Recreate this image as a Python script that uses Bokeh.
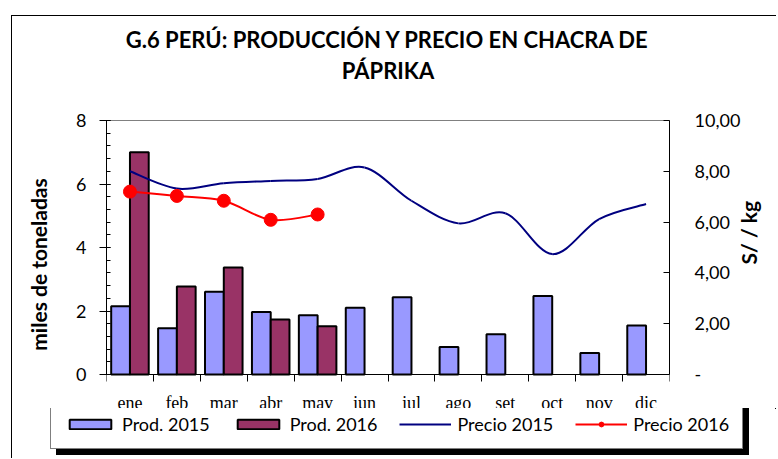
import math
from bokeh.plotting import figure
from bokeh.layouts import column
from bokeh.models import (ColumnDataSource, Range1d, LinearAxis, FixedTicker,
                          SingleIntervalTicker, Legend, LegendItem, Title, LabelSet)
from bokeh.transform import dodge
from bokeh.embed import file_html
from bokeh.resources import INLINE

# ---------------- data ----------------
months = ["ene", "feb", "mar", "abr", "may", "jun",
          "jul", "ago", "set", "oct", "nov", "dic"]
prod_2015 = [2.15, 1.46, 2.61, 1.97, 1.87, 2.10, 2.43, 0.87, 1.27, 2.47, 0.68, 1.54]
prod_2016 = [7.00, 2.77, 3.37, 1.73, 1.52]
precio_2015 = [8.00, 7.32, 7.53, 7.62, 7.70, 8.15, 6.84, 5.95, 6.35, 4.74, 6.12, 6.71]
precio_2016 = [7.20, 7.03, 6.84, 6.09, 6.30]
right_ticks = [0, 2, 4, 6, 8, 10]
right_labels = ["-", "2,00", "4,00", "6,00", "8,00", "10,00"]

FONT = "Lato"
W = 764
H_MAIN = 392
H_LEG = 50
TOP = 104          # canvas px of the top of the plot area
ZERO = 358         # canvas px of the value 0
Y_MAX, P_MAX = 8, 10
frac = (H_MAIN - ZERO) / (ZERO - TOP)

pos = [i + 0.5 for i in range(len(months))]

src15 = ColumnDataSource(dict(x=pos, y=prod_2015))
src16 = ColumnDataSource(dict(x=pos[:len(prod_2016)], y=prod_2016))
src_lab = ColumnDataSource(dict(x=pos, y=[0] * len(months), t=months))


def smooth_source(xs, ys, t=1.0 / 6.0):
    n = len(xs)
    px = [xs[0]] + list(xs) + [xs[-1]]
    py = [ys[0]] + list(ys) + [ys[-1]]
    d = dict(x0=[], y0=[], x1=[], y1=[], cx0=[], cy0=[], cx1=[], cy1=[])
    for i in range(n - 1):
        k = i + 1
        d["x0"].append(px[k]); d["y0"].append(py[k])
        d["x1"].append(px[k + 1]); d["y1"].append(py[k + 1])
        d["cx0"].append(px[k] + (px[k + 1] - px[k - 1]) * t)
        d["cy0"].append(py[k] + (py[k + 1] - py[k - 1]) * t)
        d["cx1"].append(px[k + 1] - (px[k + 2] - px[k]) * t)
        d["cy1"].append(py[k + 1] - (py[k + 2] - py[k]) * t)
    return ColumnDataSource(d)


sm15 = smooth_source(pos, precio_2015)
sm16 = smooth_source(pos[:len(precio_2016)], precio_2016)

p = figure(width=W, height=H_MAIN, output_backend="svg", toolbar_location=None,
           x_axis_type=None,
           x_range=Range1d(0, len(months)), y_range=Range1d(-Y_MAX * frac, Y_MAX),
           min_border_left=94, min_border_right=102, min_border_top=TOP,
           min_border_bottom=0, background_fill_color="white",
           border_fill_color="white", outline_line_color=None)
p.frame_align = False
p.extra_y_ranges = {"price": Range1d(-P_MAX * frac, P_MAX)}
p.grid.visible = False

# top edge of the plot area (grey)
top_ax = LinearAxis(ticker=FixedTicker(ticks=[]), axis_line_color="#808080",
                    major_tick_line_color=None, minor_tick_line_color=None,
                    major_label_standoff=0)
p.add_layout(top_ax, "above")

# category axis at value 0, ticks on the category boundaries pointing down
xa = LinearAxis(fixed_location=0,
                ticker=FixedTicker(ticks=[], minor_ticks=list(range(len(months) + 1))))
xa.axis_line_color = "black"
xa.major_tick_line_color = None
xa.minor_tick_line_color = "black"
xa.minor_tick_in = 7
xa.minor_tick_out = 0
xa.major_label_standoff = 0
p.add_layout(xa, "above")

# month labels
p.add_layout(LabelSet(x="x", y="y", text="t", source=src_lab, y_offset=-(H_MAIN - ZERO),
                      text_align="center", text_baseline="alphabetic",
                      text_font=FONT, text_font_size="18px", text_color="black"))

# spacing between the title and the plot area
p.add_layout(Title(text=" ", text_font_size="2px", standoff=32), "above")
# title (two lines)
p.add_layout(Title(text="G.6 PERÚ: PRODUCCIÓN Y PRECIO EN CHACRA DE\nPÁPRIKA",
                   align="center", text_align="center", vertical_align="bottom",
                   text_font=FONT, text_color="black", text_font_size="22px",
                   text_line_height=1.15, text_font_style="bold", standoff=0),
             "above")

# left axis
ya = p.yaxis[0]
ya.bounds = (0, Y_MAX)
ya.ticker = SingleIntervalTicker(interval=2, num_minor_ticks=5)
ya.axis_label = "miles de toneladas"
ya.axis_label_text_font = FONT
ya.axis_label_text_font_size = "21px"
ya.axis_label_text_font_style = "bold"
ya.axis_label_text_color = "black"
ya.axis_label_standoff = 22
ya.major_label_text_font = FONT
ya.major_label_text_font_size = "18px"
ya.major_label_text_color = "black"
ya.major_label_standoff = 13
ya.major_tick_out = 7
ya.major_tick_in = 4
ya.minor_tick_out = 0
ya.minor_tick_in = 4
ya.axis_line_color = "black"
ya.major_tick_line_color = "black"
ya.minor_tick_line_color = "black"

# right axis
ra = LinearAxis(y_range_name="price", axis_label="S/ / kg", bounds=(0, P_MAX),
                ticker=FixedTicker(ticks=right_ticks))
ra.major_label_overrides = {v: s for v, s in zip(right_ticks, right_labels)}
ra.axis_label_text_font = FONT
ra.axis_label_text_font_size = "21px"
ra.axis_label_text_font_style = "bold"
ra.axis_label_text_color = "black"
ra.axis_label_orientation = math.pi / 2
ra.axis_label_standoff = 5
ra.major_label_text_font = FONT
ra.major_label_text_font_size = "18px"
ra.major_label_text_color = "black"
ra.major_label_standoff = 25
ra.major_tick_out = 0
ra.major_tick_in = 6
ra.minor_tick_line_color = None
ra.axis_line_color = "black"
p.add_layout(ra, "right")

BAR15 = dict(fill_color="#9999FF", line_color="black", line_width=2)
BAR16 = dict(fill_color="#993366", line_color="black", line_width=2)
L15 = dict(line_color="#000080", line_width=2)
L16 = dict(line_color="#FF0000", line_width=2)
M16 = dict(size=13, fill_color="#FF0000", line_color="#FF0000")
BZ = dict(x0="x0", y0="y0", x1="x1", y1="y1", cx0="cx0", cy0="cy0", cx1="cx1", cy1="cy1")

p.vbar(x=dodge("x", -0.2), top="y", width=0.4, source=src15, **BAR15)
p.vbar(x=dodge("x", 0.2), top="y", width=0.4, source=src16, **BAR16)
p.bezier(source=sm15, y_range_name="price", **BZ, **L15)
p.bezier(source=sm16, y_range_name="price", **BZ, **L16)
p.scatter(x=pos[:len(precio_2016)], y=precio_2016, y_range_name="price", **M16)

# ---------------- legend strip ----------------
q = figure(width=W, height=H_LEG, output_backend="svg", toolbar_location=None,
           x_axis_type=None, y_axis_type=None, min_border=0,
           x_range=Range1d(-20, -19), y_range=Range1d(-20, -19),
           outline_line_color=None, background_fill_color="white",
           border_fill_color="white")
q.frame_align = False
q15 = q.vbar(x=dodge("x", -0.2), top="y", width=0.4, source=src15, **BAR15)
q16 = q.vbar(x=dodge("x", 0.2), top="y", width=0.4, source=src16, **BAR16)
qp15 = q.bezier(source=sm15, **BZ, **L15)
qp16 = q.bezier(source=sm16, **BZ, **L16)
qm16 = q.scatter(x=pos[:len(precio_2016)], y=precio_2016, **M16)


def make_legend(loc, shadow=False):
    items = [LegendItem(label="Prod. 2015", renderers=[q15]),
             LegendItem(label="Prod. 2016", renderers=[q16]),
             LegendItem(label="Precio 2015", renderers=[qp15]),
             LegendItem(label="Precio 2016", renderers=[qp16, qm16])]
    return Legend(items=items, location=loc, orientation="horizontal",
                  glyph_width=52, glyph_height=12, label_standoff=6, spacing=22,
                  padding=13, margin=0, label_text_font=FONT,
                  label_text_font_size="18px", label_height=18,
                  label_text_color="black", border_line_color="black",
                  border_line_width=1,
                  background_fill_color="black" if shadow else "white",
                  background_fill_alpha=1.0)


q.add_layout(make_legend((44, 3), shadow=True), "center")
q.add_layout(make_legend((38, 9)), "center")

layout = column(p, q, spacing=0, margin=(15, 0, 0, 11),
                styles={"border-left": "1px solid black",
                        "border-top": "1px solid black"})

open("out.html", "w").write(file_html(layout, INLINE))
